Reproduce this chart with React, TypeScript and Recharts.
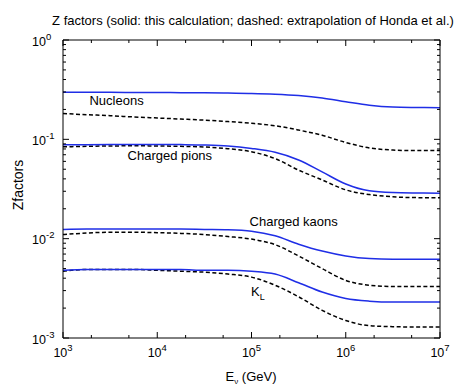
import { LineChart, Line, XAxis, YAxis, ReferenceDot } from 'recharts'

// neutrino energy grid (GeV), quarter decades
const energy = [
  1000, 1780, 3160, 5620, 10000, 17800, 31600, 56200, 100000,
  178000, 316000, 562000, 1000000, 1780000, 3160000, 5620000, 10000000
]

// solid: this calculation, dashed: extrapolation of Honda et al.
const nucleonsSolid = [0.297, 0.297, 0.297, 0.296, 0.296, 0.295, 0.294, 0.292, 0.29, 0.285, 0.276, 0.261, 0.239, 0.22, 0.211, 0.209, 0.208]
const nucleonsDashed = [0.182, 0.177, 0.173, 0.168, 0.164, 0.16, 0.156, 0.151, 0.145, 0.137, 0.124, 0.11, 0.093, 0.082, 0.078, 0.077, 0.077]
const pionsSolid = [0.088, 0.0884, 0.0887, 0.0888, 0.0888, 0.0885, 0.0878, 0.0858, 0.081, 0.074, 0.062, 0.047, 0.0355, 0.0303, 0.0291, 0.0288, 0.0287]
const pionsDashed = [0.084, 0.085, 0.0858, 0.086, 0.0858, 0.085, 0.0838, 0.0805, 0.075, 0.064, 0.049, 0.039, 0.031, 0.0278, 0.0264, 0.0259, 0.0258]
const kaonsSolid = [0.0124, 0.0125, 0.0125, 0.0125, 0.0125, 0.0125, 0.0124, 0.0123, 0.0119, 0.0107, 0.0088, 0.0075, 0.0067, 0.0063, 0.0062, 0.0062, 0.0062]
const kaonsDashed = [0.011, 0.0114, 0.0116, 0.0116, 0.0115, 0.0113, 0.011, 0.0105, 0.0099, 0.0087, 0.0067, 0.005, 0.0038, 0.0034, 0.0033, 0.0033, 0.0033]
const klSolid = [0.0048, 0.0049, 0.0049, 0.0049, 0.0049, 0.0049, 0.0048, 0.0048, 0.0047, 0.0044, 0.0036, 0.0029, 0.0025, 0.00235, 0.0023, 0.0023, 0.0023]
const klDashed = [0.0047, 0.0049, 0.0049, 0.0049, 0.0048, 0.0047, 0.0046, 0.0044, 0.0041, 0.0034, 0.0026, 0.0019, 0.0015, 0.00133, 0.0013, 0.00129, 0.00129]

const xTicks = [1e3, 2e3, 5e3, 1e4, 2e4, 5e4, 1e5, 2e5, 5e5, 1e6, 2e6, 5e6, 1e7]
const yTicks = [
  0.001, 0.002, 0.003, 0.004, 0.005, 0.006, 0.007, 0.008, 0.009,
  0.01, 0.02, 0.03, 0.04, 0.05, 0.06, 0.07, 0.08, 0.09,
  0.1, 0.2, 0.3, 0.4, 0.5, 0.6, 0.7, 0.8, 0.9, 1
]

const title = 'Z factors (solid: this calculation; dashed: extrapolation of Honda et al.)'

const data = energy.map((e, i) => ({
  e,
  nS: nucleonsSolid[i],
  nD: nucleonsDashed[i],
  pS: pionsSolid[i],
  pD: pionsDashed[i],
  kS: kaonsSolid[i],
  kD: kaonsDashed[i],
  lS: klSolid[i],
  lD: klDashed[i]
}))

const BLUE = '#1f2ee6'
const FONT = '"Liberation Sans", Arial, Helvetica, sans-serif'

const decade = (v: number) => Math.round(Math.log10(v))
const isMajor = (v: number) => Math.abs(Math.log10(v) - decade(v)) < 1e-6

function BottomTick({ x, y, payload }: any) {
  const v = payload.value
  const major = isMajor(v)
  return (
    <g>
      <line x1={x} x2={x} y1={y} y2={y - (major ? 6 : 3)} stroke="#000" />
      {major && (
        <text x={x} y={y + 19} textAnchor="middle" fontSize={12.5} fill="#000">
          10<tspan dy={-6} fontSize={9.5}>{decade(v)}</tspan>
        </text>
      )}
    </g>
  )
}

function TopTick({ x, y, payload }: any) {
  const major = isMajor(payload.value)
  return <line x1={x} x2={x} y1={y} y2={y + (major ? 6 : 3)} stroke="#000" />
}

function LeftTick({ x, y, payload }: any) {
  const v = payload.value
  const major = isMajor(v)
  return (
    <g>
      <line x1={x} x2={x + (major ? 6 : 3)} y1={y} y2={y} stroke="#000" />
      {major && (
        <text x={x - 17} y={y + 5.5} textAnchor="end" fontSize={12.5} fill="#000">
          10
        </text>
      )}
      {major && (
        <text x={x - 17} y={y - 0.5} textAnchor="start" fontSize={9.5} fill="#000">
          {decade(v)}
        </text>
      )}
    </g>
  )
}

function RightTick({ x, y, payload }: any) {
  const major = isMajor(payload.value)
  return <line x1={x} x2={x - (major ? 6 : 3)} y1={y} y2={y} stroke="#000" />
}

function KLLabel({ viewBox }: any) {
  const { x, y } = viewBox
  return (
    <text x={x} y={y + 5} textAnchor="middle" fontSize={13} fill="#000">
      K<tspan dy={4} fontSize={9}>L</tspan>
    </text>
  )
}

const labelStyle = { fontSize: 13, fill: '#000' }

export default function App() {
  return (
    <div style={{ position: 'absolute', left: 0, top: 0, width: 463, height: 388, background: '#fff', fontFamily: FONT }}>
      <div
        style={{
          position: 'absolute',
          left: 0,
          top: 13,
          width: 506,
          textAlign: 'center',
          fontSize: 13,
          whiteSpace: 'nowrap',
          lineHeight: '15px'
        }}
      >
        {title}
      </div>
      <LineChart width={463} height={388} data={data} margin={{ top: 0, right: 0, bottom: 0, left: 0 }}>
        <XAxis
          xAxisId="b"
          dataKey="e"
          type="number"
          scale="log"
          domain={[1e3, 1e7]}
          ticks={xTicks}
          interval={0}
          height={50}
          tickSize={0}
          tickMargin={0}
          tickLine={false}
          axisLine={{ stroke: '#000' }}
          tick={<BottomTick />}
          allowDataOverflow
        />
        <XAxis
          xAxisId="t"
          orientation="top"
          dataKey="e"
          type="number"
          scale="log"
          domain={[1e3, 1e7]}
          ticks={xTicks}
          interval={0}
          height={40}
          tickSize={0}
          tickMargin={0}
          tickLine={false}
          axisLine={{ stroke: '#000' }}
          tick={<TopTick />}
          allowDataOverflow
        />
        <YAxis
          yAxisId="l"
          type="number"
          scale="log"
          domain={[1e-3, 1]}
          ticks={yTicks}
          interval={0}
          width={63}
          tickSize={0}
          tickMargin={0}
          tickLine={false}
          axisLine={{ stroke: '#000' }}
          tick={<LeftTick />}
          allowDataOverflow
        />
        <YAxis
          yAxisId="r"
          orientation="right"
          type="number"
          scale="log"
          domain={[1e-3, 1]}
          ticks={yTicks}
          interval={0}
          width={23}
          tickSize={0}
          tickMargin={0}
          tickLine={false}
          axisLine={{ stroke: '#000' }}
          tick={<RightTick />}
          allowDataOverflow
        />

        <Line xAxisId="b" yAxisId="l" type="monotone" dataKey="nD" stroke="#000" strokeWidth={1.5} strokeDasharray="4 2.5" dot={false} isAnimationActive={false} />
        <Line xAxisId="b" yAxisId="l" type="monotone" dataKey="pD" stroke="#000" strokeWidth={1.5} strokeDasharray="4 2.5" dot={false} isAnimationActive={false} />
        <Line xAxisId="b" yAxisId="l" type="monotone" dataKey="kD" stroke="#000" strokeWidth={1.5} strokeDasharray="4 2.5" dot={false} isAnimationActive={false} />
        <Line xAxisId="b" yAxisId="l" type="monotone" dataKey="lD" stroke="#000" strokeWidth={1.5} strokeDasharray="4 2.5" dot={false} isAnimationActive={false} />
        <Line xAxisId="b" yAxisId="l" type="monotone" dataKey="nS" stroke={BLUE} strokeWidth={1.5} dot={false} isAnimationActive={false} />
        <Line xAxisId="b" yAxisId="l" type="monotone" dataKey="pS" stroke={BLUE} strokeWidth={1.5} dot={false} isAnimationActive={false} />
        <Line xAxisId="b" yAxisId="l" type="monotone" dataKey="kS" stroke={BLUE} strokeWidth={1.5} dot={false} isAnimationActive={false} />
        <Line xAxisId="b" yAxisId="l" type="monotone" dataKey="lS" stroke={BLUE} strokeWidth={1.5} dot={false} isAnimationActive={false} />

        <ReferenceDot xAxisId="b" yAxisId="l" x={3.7e3} y={0.246} r={0} fill="none" stroke="none" label={{ value: 'Nucleons', position: 'center', ...labelStyle }} />
        <ReferenceDot xAxisId="b" yAxisId="l" x={1.36e4} y={0.069} r={0} fill="none" stroke="none" label={{ value: 'Charged pions', position: 'center', ...labelStyle }} />
        <ReferenceDot xAxisId="b" yAxisId="l" x={2.8e5} y={0.0151} r={0} fill="none" stroke="none" label={{ value: 'Charged kaons', position: 'center', ...labelStyle }} />
        <ReferenceDot xAxisId="b" yAxisId="l" x={1.17e5} y={0.003} r={0} fill="none" stroke="none" label={<KLLabel />} />
      </LineChart>
      <div
        style={{
          position: 'absolute',
          left: 18,
          top: 185,
          transform: 'translate(-50%, -50%) rotate(-90deg)',
          fontSize: 14,
          whiteSpace: 'nowrap'
        }}
      >
        Zfactors
      </div>
      <div
        style={{
          position: 'absolute',
          left: 251,
          top: 377,
          transform: 'translate(-50%, -50%)',
          fontSize: 13,
          whiteSpace: 'nowrap'
        }}
      >
        E<sub style={{ fontSize: 8, verticalAlign: '-3px' }}>ν</sub> (GeV)
      </div>
    </div>
  )
}
